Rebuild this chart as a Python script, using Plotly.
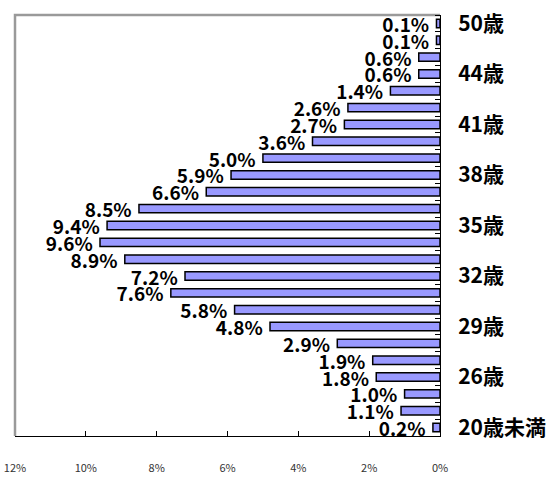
import plotly.graph_objects as go

# Age categories (bottom to top) and share of respondents (%)
ages = ["20歳未満", "24歳", "25歳", "26歳", "27歳", "28歳", "29歳", "30歳", "31歳",
        "32歳", "33歳", "34歳", "35歳", "36歳", "37歳", "38歳", "39歳", "40歳",
        "41歳", "42歳", "43歳", "44歳", "45歳", "46歳", "50歳"]
shares = [0.2, 1.1, 1.0, 1.8, 1.9, 2.9, 4.8, 5.8, 7.6, 7.2, 8.9, 9.6, 9.4,
          8.5, 6.6, 5.9, 5.0, 3.6, 2.7, 2.6, 1.4, 0.6, 0.6, 0.1, 0.1]
x_ticks = [12, 10, 8, 6, 4, 2, 0]

pos = list(range(len(ages)))
label_pos = pos[::3]
label_txt = [ages[i] for i in label_pos]
boundaries = [p + 0.5 for p in range(-1, len(ages))]

font_jp = "Noto Sans CJK JP"

fig = go.Figure(go.Bar(
    x=shares,
    y=pos,
    orientation="h",
    width=0.5,
    marker=dict(color="#9999FF", line=dict(color="black", width=1.5)),
    texttemplate="%{x:.1f}%\u00a0",
    textposition="outside",
    constraintext="none",
    cliponaxis=False,
    textfont=dict(family=font_jp, size=19, color="black", weight="bold"),
    hoverinfo="skip",
))

fig.update_layout(
    width=547, height=477,
    margin=dict(l=15, r=107, t=15, b=41),
    paper_bgcolor="white",
    plot_bgcolor="white",
    showlegend=False,
    bargap=0.5,
    shapes=[dict(type="path", xref="paper", yref="paper",
                 path="M 0 0 L 0 1 L 1 1",
                 line=dict(color="#9a9a9a", width=2.5), layer="below")],
)

fig.update_xaxes(
    range=[12, 0],
    automargin=False,
    tickvals=x_ticks,
    ticktext=[f"{v}%" for v in x_ticks],
    showgrid=False, zeroline=False,
    showline=True, linecolor="black", linewidth=1,
    ticks="inside", ticklen=5, tickcolor="black", tickwidth=1,
    ticklabelstandoff=22,
    tickfont=dict(family=font_jp, size=11, color="#333333"),
)

fig.update_yaxes(
    range=[-0.5, len(ages) - 0.5],
    automargin=False,
    side="right",
    tickvals=label_pos,
    ticktext=label_txt,
    ticks="",
    showgrid=False, zeroline=False,
    showline=True, linecolor="black", linewidth=1,
    ticklabelstandoff=13,
    tickfont=dict(family=font_jp, size=21, color="black", weight="bold"),
    minor=dict(tickvals=boundaries, ticks="inside", ticklen=5,
               tickcolor="black", tickwidth=1, showgrid=False),
)

fig.write_html("out.html")
